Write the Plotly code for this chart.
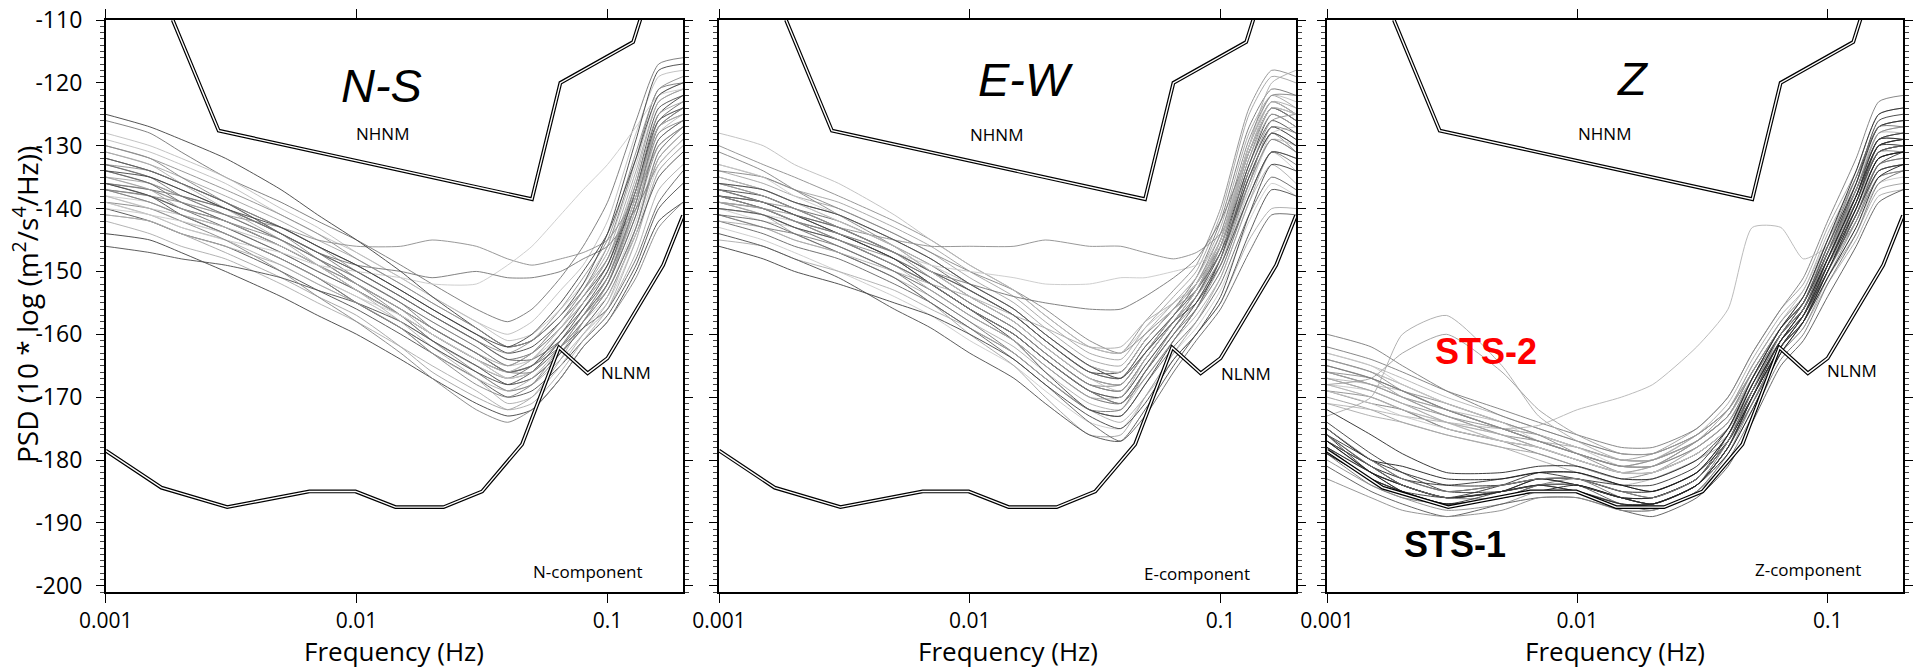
import plotly.graph_objects as go

# ---------------- data ----------------
FREQ = [0.001, 0.0015, 0.002, 0.003, 0.005, 0.007, 0.01, 0.015, 0.02,
        0.03, 0.04, 0.05, 0.065, 0.08, 0.1, 0.13, 0.16, 0.2]

N_PSD = [
    [-131, -133, -135, -138, -142, -145, -148, -152, -155, -159, -162, -161, -157, -153, -147, -134, -123, -121],
    [-133, -135, -137, -140, -144, -147, -150, -154, -157, -161, -164, -163, -159, -155, -150, -138, -126, -123],
    [-135, -137, -139, -141, -145, -148, -151, -155, -158, -162, -165, -164, -160, -156, -151, -140, -128, -125],
    [-136, -138, -140, -142, -146, -149, -152, -156, -159, -163, -166, -165, -160, -155, -149, -136, -124, -122],
    [-137, -139, -141, -143, -147, -150, -153, -157, -160, -164, -167, -166, -161, -157, -152, -141, -130, -127],
    [-138, -140, -142, -144, -148, -151, -154, -158, -161, -165, -168, -167, -163, -159, -155, -145, -134, -130],
    [-134, -136, -138, -140, -144, -147, -151, -155, -158, -162, -165, -163, -158, -153, -146, -132, -121, -120],
    [-139, -141, -143, -145, -149, -152, -155, -159, -162, -166, -169, -168, -164, -160, -156, -147, -137, -133],
    [-132, -134, -136, -139, -143, -146, -149, -153, -156, -160, -163, -162, -158, -154, -149, -137, -125, -122],
    [-136, -137, -139, -142, -145, -148, -152, -156, -159, -163, -166, -165, -161, -157, -153, -143, -132, -128],
    [-135, -136, -138, -141, -145, -148, -152, -156, -160, -164, -166, -164, -159, -154, -148, -135, -123, -121],
    [-137, -138, -140, -143, -147, -150, -153, -157, -161, -165, -167, -165, -160, -156, -151, -139, -127, -124],
    [-129, -131, -133, -136, -141, -144, -147, -151, -154, -158, -160, -158, -153, -149, -142, -128, -119, -118],
    [-140, -142, -144, -146, -150, -153, -156, -160, -163, -167, -170, -169, -165, -161, -157, -149, -140, -136],
    [-133, -134, -136, -139, -143, -146, -150, -154, -157, -161, -163, -161, -156, -151, -145, -131, -121, -119],
    [-138, -139, -141, -144, -148, -151, -154, -158, -161, -165, -167, -166, -162, -158, -153, -142, -131, -127],
    [-126, -128, -131, -135, -139, -142, -145, -149, -152, -156, -158, -156, -151, -146, -139, -126, -117, -116],
    [-142, -144, -146, -148, -152, -155, -158, -162, -165, -169, -172, -171, -166, -161, -156, -145, -134, -130],
    [-144, -145, -147, -150, -154, -157, -160, -164, -167, -171, -173, -172, -167, -162, -158, -150, -142, -139],
    [-130, -132, -135, -139, -144, -148, -152, -157, -161, -166, -169, -168, -163, -158, -152, -139, -127, -124],
    [-141, -142, -144, -147, -151, -154, -157, -162, -166, -170, -172, -170, -164, -158, -152, -140, -129, -126],
    [-134, -136, -139, -142, -146, -149, -153, -157, -160, -164, -166, -165, -162, -159, -156, -148, -139, -134],
    [-128, -130, -132, -135, -140, -143, -147, -151, -154, -158, -161, -160, -156, -152, -146, -133, -122, -120],
    [-146, -147, -148, -149, -151, -153, -155, -158, -161, -165, -168, -167, -163, -159, -154, -144, -135, -131],
    [-137, -138, -139, -141, -143, -145, -146, -146, -145, -146, -148, -149, -148, -147, -145, -138, -130, -127],
    [-140, -141, -143, -145, -147, -149, -150, -151, -152, -152, -149, -146, -141, -137, -133, -127, -122, -121],
    [-136, -137, -138, -140, -144, -147, -149, -150, -151, -150, -151, -151, -150, -148, -146, -140, -133, -129],
    [-131, -133, -136, -140, -145, -149, -153, -158, -162, -167, -171, -170, -165, -160, -155, -143, -132, -128],
    [-125, -127, -129, -132, -137, -141, -145, -150, -154, -159, -162, -161, -157, -152, -144, -129, -118, -117],
    [-139, -140, -142, -145, -150, -154, -158, -163, -167, -172, -174, -172, -167, -162, -158, -151, -143, -139],
    [-135, -137, -140, -142, -146, -149, -152, -156, -159, -163, -165, -163, -158, -154, -148, -136, -125, -123],
    [-132, -134, -136, -139, -144, -147, -150, -154, -157, -161, -164, -164, -161, -157, -152, -141, -129, -126],
    [-138, -140, -141, -143, -146, -149, -153, -157, -160, -164, -166, -164, -159, -155, -150, -138, -126, -124],
    [-136, -138, -141, -144, -148, -151, -155, -159, -162, -166, -168, -166, -161, -156, -150, -137, -126, -124],
    [-130, -132, -134, -137, -141, -144, -148, -152, -155, -159, -162, -161, -157, -153, -148, -137, -127, -125],
    [-139, -141, -142, -144, -148, -151, -154, -157, -160, -164, -167, -166, -162, -158, -154, -144, -133, -129],
    [-133, -135, -138, -141, -145, -148, -151, -155, -159, -163, -166, -166, -162, -158, -153, -143, -131, -127],
    [-141, -142, -144, -146, -149, -152, -155, -159, -163, -167, -169, -167, -162, -157, -151, -138, -127, -125],
    [-134, -135, -137, -140, -143, -146, -149, -153, -156, -160, -162, -160, -155, -150, -144, -132, -122, -120],
    [-137, -139, -141, -144, -148, -151, -155, -159, -163, -168, -170, -168, -162, -157, -151, -139, -128, -126],
]

E_PSD = [
    [-134, -136, -138, -140, -144, -147, -151, -155, -159, -164, -165, -160, -155, -151, -143, -128, -122, -124],
    [-136, -138, -140, -142, -146, -149, -153, -157, -161, -166, -167, -162, -157, -152, -145, -131, -124, -126],
    [-137, -139, -141, -143, -147, -150, -154, -158, -162, -167, -168, -163, -158, -154, -147, -134, -127, -129],
    [-138, -140, -142, -144, -148, -151, -155, -159, -163, -168, -169, -164, -158, -153, -145, -130, -123, -125],
    [-139, -141, -143, -145, -149, -152, -156, -160, -164, -169, -170, -165, -159, -155, -148, -135, -128, -131],
    [-140, -142, -143, -146, -150, -153, -157, -161, -165, -170, -171, -166, -160, -156, -150, -138, -131, -134],
    [-135, -137, -139, -141, -145, -148, -152, -156, -160, -165, -166, -161, -156, -151, -142, -127, -121, -122],
    [-141, -143, -145, -147, -151, -154, -158, -162, -166, -171, -172, -167, -161, -157, -151, -139, -133, -136],
    [-137, -138, -140, -143, -147, -150, -153, -157, -161, -166, -166, -161, -156, -152, -146, -133, -125, -127],
    [-139, -140, -142, -145, -148, -151, -155, -159, -163, -168, -168, -163, -157, -153, -146, -132, -124, -126],
    [-133, -135, -137, -139, -143, -146, -150, -154, -158, -163, -164, -159, -154, -150, -141, -125, -119, -120],
    [-142, -144, -146, -148, -152, -155, -159, -163, -167, -172, -173, -168, -162, -158, -152, -141, -135, -137],
    [-136, -137, -139, -142, -146, -149, -152, -156, -160, -165, -167, -163, -158, -154, -149, -137, -129, -130],
    [-138, -139, -141, -144, -148, -152, -156, -160, -164, -169, -170, -165, -159, -154, -147, -133, -126, -128],
    [-130, -133, -135, -138, -142, -145, -149, -153, -157, -162, -163, -158, -153, -149, -140, -124, -118, -119],
    [-143, -145, -147, -150, -154, -157, -161, -165, -169, -174, -175, -170, -163, -159, -153, -142, -136, -138],
    [-140, -141, -143, -146, -150, -154, -158, -163, -167, -172, -172, -166, -159, -154, -146, -131, -124, -126],
    [-145, -146, -148, -150, -153, -156, -159, -163, -167, -172, -174, -170, -164, -160, -155, -145, -140, -140],
    [-137, -139, -141, -144, -148, -152, -156, -161, -166, -172, -173, -168, -161, -156, -148, -134, -127, -129],
    [-134, -135, -137, -140, -144, -147, -150, -153, -156, -161, -163, -160, -156, -153, -147, -136, -129, -131],
    [-139, -141, -144, -147, -151, -155, -160, -165, -170, -176, -176, -170, -163, -158, -151, -139, -131, -132],
    [-141, -142, -144, -147, -151, -155, -159, -164, -168, -174, -177, -173, -166, -161, -156, -147, -141, -141],
    [-128, -130, -133, -136, -141, -145, -149, -153, -157, -162, -163, -159, -155, -151, -144, -130, -122, -123],
    [-144, -146, -148, -151, -156, -159, -163, -167, -171, -176, -177, -172, -165, -160, -155, -144, -137, -138],
    [-139, -140, -141, -143, -145, -146, -146, -146, -145, -146, -146, -147, -148, -147, -144, -134, -126, -125],
    [-140, -141, -142, -144, -147, -149, -150, -151, -152, -152, -151, -151, -150, -149, -146, -137, -128, -127],
    [-138, -140, -142, -144, -147, -150, -152, -154, -155, -156, -156, -154, -151, -148, -142, -131, -124, -125],
    [-142, -143, -145, -147, -150, -152, -154, -157, -159, -162, -162, -158, -155, -152, -146, -130, -120, -118],
    [-146, -148, -150, -152, -155, -157, -160, -164, -168, -173, -175, -171, -164, -160, -154, -141, -133, -134],
    [-131, -134, -137, -141, -146, -150, -154, -158, -162, -167, -168, -163, -157, -152, -144, -129, -122, -122],
    [-136, -138, -140, -143, -147, -150, -154, -158, -162, -167, -168, -163, -157, -153, -146, -132, -125, -127],
    [-138, -139, -141, -143, -147, -150, -153, -157, -161, -166, -167, -162, -157, -153, -147, -135, -128, -130],
    [-135, -137, -139, -142, -146, -150, -154, -158, -162, -167, -169, -164, -158, -153, -145, -130, -123, -125],
    [-140, -141, -143, -145, -149, -152, -156, -160, -164, -169, -171, -166, -160, -155, -148, -135, -128, -130],
    [-137, -139, -140, -143, -147, -151, -155, -159, -163, -168, -169, -164, -158, -154, -148, -136, -129, -131],
    [-133, -135, -138, -141, -145, -148, -152, -156, -160, -165, -166, -161, -156, -152, -145, -131, -124, -125],
    [-141, -143, -144, -146, -150, -153, -157, -161, -165, -170, -171, -166, -160, -156, -150, -138, -131, -133],
    [-139, -140, -142, -145, -149, -153, -157, -161, -165, -170, -170, -164, -158, -153, -145, -131, -123, -124],
    [-136, -137, -139, -141, -145, -148, -152, -156, -160, -165, -167, -163, -158, -155, -149, -138, -131, -132],
    [-138, -140, -142, -145, -149, -152, -156, -160, -164, -169, -171, -167, -161, -156, -149, -136, -127, -128],
]

Z_STS1_PSD = [
    [-176, -181, -183, -185, -184, -183, -183, -185, -185, -182, -176, -168, -160, -156, -148, -138, -130, -129],
    [-177, -182, -184, -186, -185, -184, -184, -186, -186, -183, -177, -170, -162, -158, -150, -141, -133, -131],
    [-178, -183, -185, -187, -186, -184, -184, -187, -187, -184, -178, -171, -163, -158, -149, -139, -131, -130],
    [-175, -180, -182, -184, -184, -183, -183, -185, -186, -183, -176, -168, -160, -155, -146, -136, -127, -126],
    [-179, -184, -186, -187, -186, -185, -185, -187, -188, -185, -180, -173, -164, -160, -152, -144, -136, -134],
    [-176, -180, -183, -184, -183, -182, -183, -184, -184, -181, -175, -167, -159, -155, -147, -137, -129, -128],
    [-180, -184, -186, -188, -187, -185, -185, -188, -188, -185, -179, -172, -163, -159, -151, -142, -134, -133],
    [-177, -181, -184, -186, -185, -183, -184, -186, -187, -184, -178, -170, -161, -157, -149, -140, -132, -131],
    [-174, -179, -182, -185, -185, -184, -184, -186, -186, -183, -177, -169, -161, -156, -147, -136, -126, -125],
    [-181, -185, -187, -189, -187, -186, -186, -188, -189, -186, -181, -174, -165, -161, -154, -146, -139, -137],
    [-172, -176, -179, -182, -182, -181, -181, -183, -183, -180, -175, -167, -159, -154, -145, -134, -125, -124],
    [-178, -182, -185, -187, -186, -184, -183, -186, -187, -184, -177, -169, -160, -155, -146, -135, -127, -127],
    [-176, -182, -184, -186, -184, -182, -182, -184, -185, -182, -176, -169, -161, -157, -150, -141, -134, -133],
    [-183, -186, -188, -189, -188, -186, -186, -188, -188, -185, -179, -171, -162, -157, -148, -137, -129, -129],
    [-175, -180, -181, -183, -183, -182, -182, -184, -185, -182, -177, -170, -162, -158, -151, -143, -135, -133],
    [-179, -183, -185, -186, -185, -184, -185, -187, -187, -184, -178, -170, -162, -157, -148, -138, -130, -130],
    [-177, -181, -184, -186, -185, -184, -184, -186, -187, -184, -178, -170, -161, -157, -149, -139, -131, -130],
    [-178, -182, -184, -186, -185, -183, -184, -186, -186, -183, -177, -169, -161, -156, -148, -138, -129, -129],
    [-176, -181, -184, -186, -186, -184, -184, -186, -187, -184, -178, -171, -162, -158, -150, -141, -133, -132],
    [-179, -183, -185, -187, -185, -184, -185, -187, -187, -184, -178, -170, -162, -157, -149, -139, -130, -129],
    [-175, -180, -183, -185, -184, -183, -183, -185, -186, -183, -177, -169, -160, -156, -147, -137, -128, -127],
    [-177, -182, -185, -187, -186, -185, -184, -186, -187, -184, -179, -172, -163, -158, -150, -140, -132, -131],
]

Z_STS2_PSD = [
    [-164, -166, -168, -171, -174, -176, -178, -180, -179, -175, -170, -163, -156, -152, -143, -134, -125, -124],
    [-166, -168, -169, -172, -175, -177, -179, -181, -180, -176, -172, -165, -158, -154, -145, -137, -128, -127],
    [-167, -169, -171, -173, -176, -177, -179, -181, -181, -177, -173, -166, -159, -155, -147, -139, -131, -130],
    [-168, -170, -172, -174, -176, -178, -180, -182, -181, -178, -174, -167, -160, -156, -148, -140, -133, -132],
    [-169, -171, -172, -175, -177, -179, -181, -183, -182, -179, -175, -168, -161, -157, -150, -142, -135, -134],
    [-165, -167, -169, -172, -175, -177, -178, -180, -180, -176, -171, -164, -157, -153, -144, -135, -127, -126],
    [-170, -172, -174, -176, -178, -179, -181, -183, -183, -180, -176, -170, -162, -158, -151, -144, -137, -136],
    [-163, -165, -167, -170, -173, -175, -177, -179, -179, -176, -172, -165, -158, -153, -145, -136, -128, -128],
    [-166, -168, -170, -173, -175, -176, -178, -180, -180, -177, -173, -167, -160, -156, -149, -141, -134, -133],
    [-168, -169, -171, -174, -177, -178, -180, -182, -182, -178, -174, -168, -161, -157, -149, -140, -132, -131],
    [-162, -164, -166, -169, -172, -174, -176, -178, -178, -175, -170, -163, -156, -151, -142, -132, -123, -122],
    [-171, -173, -174, -176, -178, -180, -182, -184, -183, -180, -177, -171, -163, -159, -152, -145, -138, -137],
    [-165, -167, -170, -173, -176, -178, -180, -182, -181, -177, -172, -165, -158, -154, -146, -138, -130, -129],
    [-167, -168, -170, -172, -174, -176, -178, -180, -180, -177, -173, -166, -159, -155, -148, -141, -134, -133],
    [-169, -170, -172, -175, -177, -178, -180, -182, -182, -179, -175, -169, -161, -156, -147, -137, -129, -128],
    [-164, -166, -168, -171, -174, -176, -178, -181, -181, -178, -174, -167, -159, -155, -147, -138, -130, -130],
    [-160, -162, -165, -169, -173, -175, -177, -179, -179, -176, -172, -166, -159, -155, -147, -138, -131, -131],
    [-173, -170, -160, -157, -165, -173, -177, -180, -180, -177, -173, -167, -160, -156, -148, -140, -133, -132],
    [-168, -167, -163, -160, -166, -172, -176, -179, -179, -176, -172, -166, -159, -155, -147, -139, -132, -131],
    [-171, -172, -173, -174, -175, -174.5, -172, -170, -168, -162, -156, -143, -143, -148, -146, -139, -132, -131],
    [-166, -167, -169, -171, -174, -176, -179, -182, -182, -179, -175, -168, -160, -156, -149, -142, -135, -134],
    [-163, -165, -168, -171, -174, -177, -179, -181, -180, -177, -173, -167, -160, -155, -146, -136, -127, -126],
    [-165, -167, -169, -172, -175, -177, -179, -181, -181, -178, -174, -167, -160, -156, -148, -139, -131, -130],
    [-167, -169, -171, -174, -176, -178, -180, -182, -182, -178, -174, -168, -160, -156, -148, -139, -131, -130],
    [-166, -168, -170, -172, -175, -177, -179, -181, -181, -177, -173, -166, -159, -155, -146, -137, -129, -128],
    [-168, -170, -172, -174, -177, -178, -180, -182, -182, -179, -175, -168, -161, -157, -150, -142, -134, -133],
    [-164, -166, -169, -172, -175, -177, -179, -181, -180, -177, -173, -166, -159, -154, -145, -135, -127, -126],
    [-169, -171, -173, -175, -177, -178, -180, -182, -182, -179, -175, -169, -162, -158, -151, -143, -136, -135],
]

# Peterson noise models as drawn
NLNM_F = [0.001, 0.001667, 0.00305, 0.00649, 0.0099, 0.01429, 0.02222, 0.03165,
          0.04566, 0.0641, 0.08333, 0.1, 0.1667, 0.2]
NLNM_V = [-178.5, -184.4, -187.5, -185.0, -185.0, -187.5, -187.5, -185.0,
          -177.5, -162.1, -166.2, -163.8, -149.0, -141.1]
NHNM_F = [0.00185, 0.00282, 0.05, 0.0649, 0.1266, 0.159]
NHNM_V = [-110.0, -127.6, -138.5, -120.0, -113.5, -101.0]

X_TICKS = [0.001, 0.01, 0.1]
X_TICKTEXT = ["0.001", "0.01", "0.1"]
Y_TICKS = [-110, -120, -130, -140, -150, -160, -170, -180, -190, -200]
Y_TICKTEXT = ["-110", "-120", "-130", "-140", "-150", "-160", "-170", "-180", "-190", "-200"]

# ---------------- figure ----------------
W, H = 1915, 670
fig = go.Figure()

GRAYS = ['#a0a0a0', '#636363', '#bcbcbc', '#4c4c4c', '#8c8c8c', '#c8c8c8', '#747474', '#aaaaaa', '#404040', '#828282']
DARKS = ['#1a1a1a', '#3a3a3a', '#555555', '#262626', '#707070', '#2f2f2f', '#8a8a8a']
MEDS = ['#9c9c9c', '#b3b3b3', '#8a8a8a', '#c4c4c4', '#7a7a7a', '#a8a8a8']

def add_curves(curves, colors, xa, ya, width=0.9):
    for i, c in enumerate(curves):
        fig.add_trace(go.Scatter(x=FREQ, y=c, mode='lines', xaxis=xa, yaxis=ya,
                                 line=dict(color=colors[i % len(colors)], width=width, shape='spline', smoothing=0.6),
                                 showlegend=False, hoverinfo='skip'))

def add_models(xa, ya):
    for fx, fy in ((NLNM_F, NLNM_V), (NHNM_F, NHNM_V)):
        fig.add_trace(go.Scatter(x=fx, y=fy, mode='lines', xaxis=xa, yaxis=ya,
                                 line=dict(color='black', width=3.8), showlegend=False, hoverinfo='skip'))
        fig.add_trace(go.Scatter(x=fx, y=fy, mode='lines', xaxis=xa, yaxis=ya,
                                 line=dict(color='white', width=1.4), showlegend=False, hoverinfo='skip'))

add_curves(N_PSD, GRAYS, 'x', 'y')
add_models('x', 'y')
add_curves(E_PSD, GRAYS, 'x2', 'y2')
add_models('x2', 'y2')
add_curves(Z_STS2_PSD, MEDS, 'x3', 'y3')
add_curves(Z_STS1_PSD, DARKS, 'x3', 'y3')
add_models('x3', 'y3')

XTICKFONT = dict(family='Open Sans, sans-serif', size=21, color='black')
YTICKFONT = dict(family='Open Sans, sans-serif', size=23, color='black')
domains = [(105.7, 683), (719, 1296), (1327, 1903)]
ydom = [1 - 592 / H, 1 - 20 / H]

layout = dict(width=W, height=H, margin=dict(l=0, r=0, t=0, b=0, autoexpand=False),
              paper_bgcolor='white', plot_bgcolor='white', showlegend=False)
for i, (a, b) in enumerate(domains):
    sx = '' if i == 0 else str(i + 1)
    layout['xaxis' + sx] = dict(type='log', range=[-3, -0.699], domain=[a / W, b / W],
                                anchor='y' + sx, tickvals=X_TICKS, ticktext=X_TICKTEXT,
                                ticks='outside', ticklen=9, tickwidth=1.2, tickcolor='black',
                                showline=True, linecolor='black', linewidth=1.6, mirror='ticks',
                                showgrid=False, zeroline=False, tickfont=XTICKFONT,
                                ticklabelstandoff=0, automargin=False)
    layout['yaxis' + sx] = dict(range=[-201, -110], domain=ydom, anchor='x' + sx,
                                tickvals=Y_TICKS, ticktext=Y_TICKTEXT, ticks='outside', ticklen=8,
                                tickwidth=1.2, tickcolor='black', showline=True, linecolor='black',
                                linewidth=1.6, mirror='ticks', showgrid=False, zeroline=False,
                                tickfont=YTICKFONT, showticklabels=(i == 0), ticklabelstandoff=9,
                                automargin=False,
                                minor=dict(dtick=1, ticks='outside', ticklen=4, tickwidth=1,
                                           tickcolor='#444444', showgrid=False))
fig.update_layout(**layout)

ann = []
TXT = dict(family='Open Sans, sans-serif', size=17, color='black')
TITLEF = dict(family='Liberation Sans, Arial, sans-serif', size=47, color='black')
def A(xr, yr, x, y, text, font, **kw):
    d = dict(xref=xr, yref=yr, x=x, y=y, text=text, font=font, showarrow=False,
             xanchor='center', yanchor='middle')
    d.update(kw)
    ann.append(d)

A('x', 'y', -1.90, -120.5, '<i>N-S</i>', TITLEF)
A('x', 'y', -1.897, -128.1, 'NHNM', TXT)
A('x', 'y', -0.928, -166.0, 'NLNM', TXT)
A('x', 'y', -1.079, -197.8, 'N-component', TXT)
A('x2', 'y2', -1.776, -119.5, '<i>E-W</i>', TITLEF)
A('x2', 'y2', -1.894, -128.2, 'NHNM', TXT)
A('x2', 'y2', -0.90, -166.3, 'NLNM', TXT)
A('x2', 'y2', -1.095, -198.1, 'E-component', TXT)
A('x3', 'y3', -1.776, -119.3, '<i>Z</i>', TITLEF)
A('x3', 'y3', -1.892, -128.0, 'NHNM', TXT)
A('x3', 'y3', -0.903, -165.7, 'NLNM', TXT)
A('x3', 'y3', -1.08, -197.4, 'Z-component', TXT)
A('x3', 'y3', -2.365, -162.8, '<b>STS-2</b>',
  dict(family='Liberation Sans, Arial, sans-serif', size=36, color='#ff0000'))
A('x3', 'y3', -2.488, -193.5, '<b>STS-1</b>',
  dict(family='Liberation Sans, Arial, sans-serif', size=36, color='black'))

AXT = dict(family='Open Sans, sans-serif', size=26, color='black')
YT = dict(family='Open Sans, sans-serif', size=28, color='black')
for (a, b) in domains:
    A('paper', 'paper', (a + b) / 2 / W, 0, 'Frequency (Hz)', AXT, yanchor='bottom',
      yshift=0, borderpad=0)
A('paper', 'paper', 0, 1 - 305 / H, 'PSD (10 * log (m<sup>2</sup>/s<sup>4</sup>/Hz))', YT,
  textangle=-90, xanchor='center', xshift=25)

fig.update_layout(annotations=ann)
fig.write_html('out.html')
